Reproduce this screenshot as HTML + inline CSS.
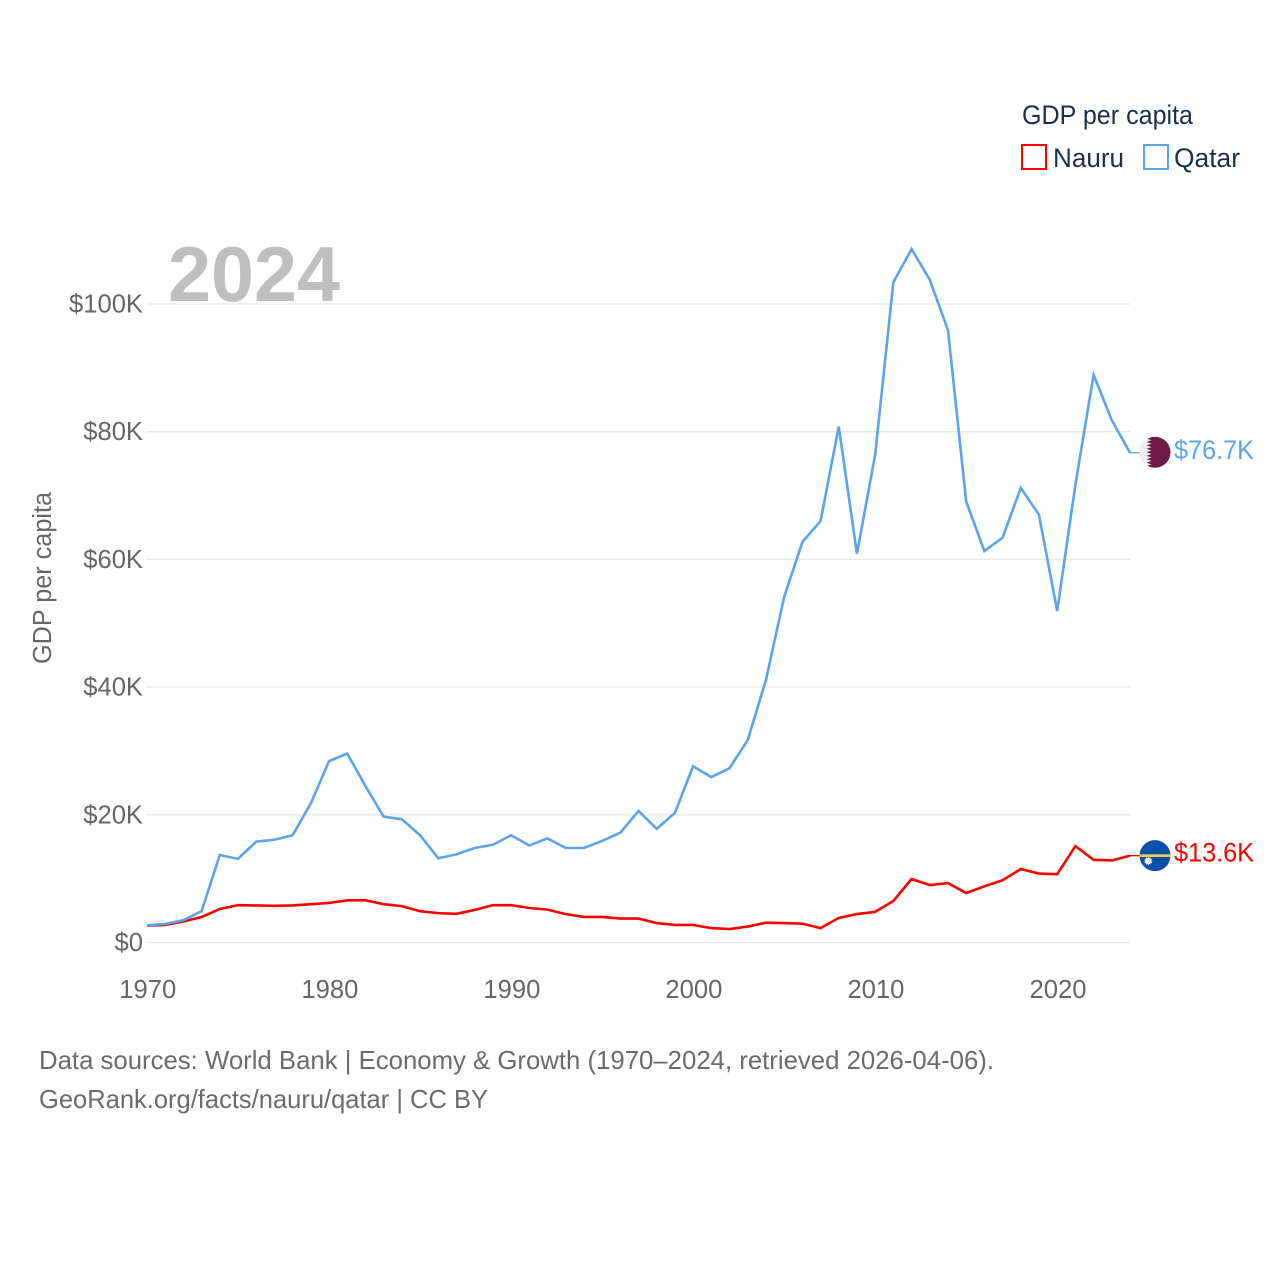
<!DOCTYPE html>
<html lang="en">
<head>
<meta charset="utf-8">
<title>GDP per capita: Nauru and Qatar</title>
<style>
html,body{margin:0;padding:0;background:#fff;width:1280px;height:1280px;overflow:hidden}
svg{display:block;font-family:"Liberation Sans",sans-serif}
</style>
</head>
<body>
<svg id="chart" xmlns="http://www.w3.org/2000/svg" width="1280" height="1280" viewBox="0 0 1280 1280">
  <rect x="0" y="0" width="1280" height="1280" fill="#fff"/>
  <g id="grid"></g>
  <text x="168" y="301" font-size="78" font-weight="700" fill="#bfbfbf" textLength="172" lengthAdjust="spacingAndGlyphs">2024</text>
  <g id="y-ticks"></g>
  <g id="x-ticks"></g>
  <text transform="translate(51,664) rotate(-90)" font-size="25.5" fill="#666" textLength="172" lengthAdjust="spacingAndGlyphs">GDP per capita</text>
  <g id="series"></g>
  <g id="flags"></g>
  <g>
    <text x="1022" y="124" font-size="26.5" fill="#1a2f4f" textLength="171" lengthAdjust="spacingAndGlyphs">GDP per capita</text>
    <rect x="1022" y="145" width="24" height="24" fill="#fff" stroke="#ff0000" stroke-width="2"/>
    <text x="1053" y="167" font-size="26.5" fill="#1a2f4f" textLength="71" lengthAdjust="spacingAndGlyphs">Nauru</text>
    <rect x="1144" y="145" width="24" height="24" fill="#fff" stroke="#5ba4ec" stroke-width="2"/>
    <text x="1174" y="167" font-size="26.5" fill="#1a2f4f" textLength="66" lengthAdjust="spacingAndGlyphs">Qatar</text>
  </g>
  <text x="39" y="1069" font-size="26" fill="#6b6b6b" textLength="955" lengthAdjust="spacingAndGlyphs">Data sources: World Bank | Economy &amp; Growth (1970–2024, retrieved 2026-04-06).</text>
  <text x="39" y="1108" font-size="26" fill="#6b6b6b" textLength="449" lengthAdjust="spacingAndGlyphs">GeoRank.org/facts/nauru/qatar | CC BY</text>
</svg>
<script>
const firstYear = 1970;
const yTickValues = [0, 20, 40, 60, 80, 100];
const yTickLabels = ["$0", "$20K", "$40K", "$60K", "$80K", "$100K"];
const xTickValues = [1970, 1980, 1990, 2000, 2010, 2020];
const xTickLabels = ["1970", "1980", "1990", "2000", "2010", "2020"];
const qatarValues = [2.7, 2.9, 3.5, 4.9, 13.7, 13.1, 15.8, 16.1, 16.8, 21.8, 28.4, 29.6, 24.5, 19.7, 19.3, 16.8, 13.2, 13.8, 14.8, 15.3, 16.8, 15.2, 16.3, 14.8, 14.8, 15.9, 17.2, 20.6, 17.8, 20.3, 27.6, 25.9, 27.3, 31.7, 41.1, 54.1, 62.7, 66.0, 80.8, 60.9, 76.4, 103.4, 108.6, 103.8, 95.9, 69.1, 61.3, 63.4, 71.2, 67.0, 51.9, 71.7, 88.9, 81.8, 76.7];
const nauruValues = [2.65, 2.75, 3.3, 4.0, 5.25, 5.85, 5.8, 5.75, 5.8, 6.0, 6.2, 6.6, 6.6, 6.0, 5.7, 4.9, 4.6, 4.5, 5.1, 5.85, 5.85, 5.4, 5.15, 4.45, 4.0, 4.0, 3.75, 3.75, 3.05, 2.75, 2.75, 2.25, 2.1, 2.5, 3.1, 3.05, 2.95, 2.25, 3.85, 4.45, 4.8, 6.5, 9.95, 9.0, 9.3, 7.75, 8.8, 9.75, 11.5, 10.8, 10.7, 15.1, 12.95, 12.85, 13.6];

const NS = "http://www.w3.org/2000/svg";
const xLeft = 147, xRight = 1130, yZero = 942.5, yHundred = 304;
function xScale(year) { return xLeft + (year - 1970) * (xRight - xLeft) / 54; }
function yScale(value) { return yZero - value * (yZero - yHundred) / 100; }
function labelWidth(s) {
  let w = 0;
  for (const c of s) w += c === "K" ? 17 : c === "." ? 7 : 14.25;
  return w;
}
function make(tag, attrs) {
  const el = document.createElementNS(NS, tag);
  for (const k in attrs) el.setAttribute(k, attrs[k]);
  return el;
}

const grid = document.getElementById("grid");
const yTicks = document.getElementById("y-ticks");
yTickValues.forEach((v, i) => {
  const line = make("line", {x1: xLeft, x2: xRight, y1: yScale(v), y2: yScale(v), stroke: "#e8e8e8", "stroke-width": 1.3});
  
  
  grid.appendChild(line);
  const t = make("text", {x: 143, y: yScale(v) + 8.5, "font-size": 26, fill: "#666", "text-anchor": "end", textLength: labelWidth(yTickLabels[i]), lengthAdjust: "spacingAndGlyphs"});
  
  
  t.textContent = yTickLabels[i];
  yTicks.appendChild(t);
});

const xTicks = document.getElementById("x-ticks");
xTickValues.forEach((v, i) => {
  const t = make("text", {x: xScale(v) + 0.8, y: 998, "font-size": 26, fill: "#666", "text-anchor": "middle", textLength: labelWidth(xTickLabels[i]), lengthAdjust: "spacingAndGlyphs"});
  
  
  t.textContent = xTickLabels[i];
  xTicks.appendChild(t);
});

function linePoints(values) {
  return values.map((v, i) => xScale(firstYear + i).toFixed(2) + "," + yScale(v).toFixed(2)).join(" ");
}
const seriesGroup = document.getElementById("series");
const nauruLine = make("polyline", {points: linePoints(nauruValues), fill: "none", stroke: "#ff0000", "stroke-width": 2.6, "stroke-linejoin": "miter"});


seriesGroup.appendChild(nauruLine);
const qatarLine = make("polyline", {points: linePoints(qatarValues), fill: "none", stroke: "#5ba4ec", "stroke-width": 2.6, "stroke-linejoin": "miter"});


seriesGroup.appendChild(qatarLine);

function formatValue(v) { return "$" + v.toFixed(1) + "K"; }
const flags = document.getElementById("flags");
const flagX = 1155, flagR = 15.5;

/* Qatar end marker */
const qLast = qatarValues[qatarValues.length - 1];
const qY = yScale(qLast);
const qLead = make("line", {x1: xRight, x2: 1140, y1: qY, y2: qY, stroke: "#5ba4ec", "stroke-width": 1.3});


flags.appendChild(qLead);
const qFlag = make("g", {transform: "translate(" + flagX + "," + (qY - 0.5) + ")"});


const qBase = make("circle", {r: flagR, fill: "#eeeeee"});


qFlag.appendChild(qBase);
const zig = [];
const teeth = 9;
for (let i = 0; i <= teeth * 2; i++) {
  zig.push((i % 2 ? -8.5 : -3.5) + "," + (-flagR + i * flagR / teeth).toFixed(2));
}
const qClip = make("clipPath", {id: "qatar-clip"});
qClip.appendChild(make("circle", {r: flagR}));
qFlag.appendChild(qClip);
const qMaroon = make("polygon", {points: zig.join(" ") + " 16,16 16,-16", fill: "#701a46", "clip-path": "url(#qatar-clip)"});


qFlag.appendChild(qMaroon);
flags.appendChild(qFlag);
const qText = make("text", {x: 1174, y: qY + 6, "font-size": 26.5, fill: "#5ba4ec", textLength: 80, lengthAdjust: "spacingAndGlyphs"});


qText.textContent = formatValue(qLast);
flags.appendChild(qText);

/* Nauru end marker */
const nLast = nauruValues[nauruValues.length - 1];
const nY = yScale(nLast);
const nLead = make("line", {x1: xRight, x2: 1140, y1: nY, y2: nY, stroke: "#ff0000", "stroke-width": 1.3});


flags.appendChild(nLead);
const nFlag = make("g", {transform: "translate(" + flagX + "," + nY + ")"});


const nBase = make("circle", {r: flagR, fill: "#0b4fa8"});


nFlag.appendChild(nBase);
const nClip = make("clipPath", {id: "nauru-clip"});
nClip.appendChild(make("circle", {r: flagR}));
nFlag.appendChild(nClip);
const nStripe = make("rect", {x: -16, y: -1.3, width: 32, height: 2.6, fill: "#f7cf4a", "clip-path": "url(#nauru-clip)"});


nFlag.appendChild(nStripe);
const star = [];
for (let i = 0; i < 24; i++) {
  const a = i * Math.PI / 12, r = i % 2 ? 3 : 4.4;
  star.push((-6.7 + r * Math.cos(a)).toFixed(2) + "," + (5.3 + r * Math.sin(a)).toFixed(2));
}
const nStar = make("polygon", {points: star.join(" "), fill: "#fff"});


nFlag.appendChild(nStar);
flags.appendChild(nFlag);
const nText = make("text", {x: 1174, y: nY + 6, "font-size": 26.5, fill: "#ff0000", textLength: 80, lengthAdjust: "spacingAndGlyphs"});


nText.textContent = formatValue(nLast);
flags.appendChild(nText);
</script>
</body>
</html>
